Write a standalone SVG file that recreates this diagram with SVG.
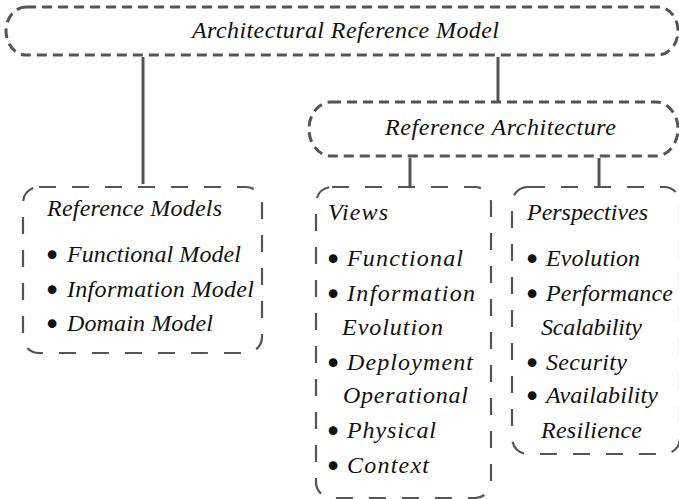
<svg xmlns="http://www.w3.org/2000/svg" width="679" height="499" viewBox="0 0 679 499">
  <style>
    .bg { fill: #ffffff; }
    .top-box { fill: none; stroke: #555555; stroke-width: 3; stroke-dasharray: 10 6; }
    .sub-box { fill: none; stroke: #555555; stroke-width: 2.2; stroke-dasharray: 17 16; }
    .link { stroke: #555555; stroke-width: 3; fill: none; }
    .lbl { font-family: "Liberation Serif", "Times New Roman", serif; font-style: italic; font-size: 24px; fill: #111111; }
    .dot { font-family: "DejaVu Sans", "Liberation Sans", sans-serif; font-size: 30px; fill: #111111; text-anchor: middle; }
  </style>
  <rect class="bg" x="0" y="0" width="679" height="499"/>

  <!-- connectors between boxes -->
  <g id="connectors">
    <line class="link" x1="143" y1="57" x2="143" y2="184"/>
    <line class="link" x1="498" y1="57" x2="498" y2="101"/>
    <line class="link" x1="410" y1="158" x2="410" y2="186"/>
    <line class="link" x1="599" y1="158" x2="599" y2="186"/>
  </g>

  <g id="architectural-reference-model">
    <rect class="top-box" x="6" y="7" width="672" height="48" rx="20" ry="24"/>
    <text class="lbl" x="192" y="38" textLength="307" lengthAdjust="spacing">Architectural Reference Model</text>
  </g>

  <g id="reference-architecture">
    <rect class="top-box" x="309" y="102" width="369" height="54" rx="22" ry="27"/>
    <text class="lbl" x="385" y="135" textLength="231" lengthAdjust="spacing">Reference Architecture</text>
  </g>

  <g id="reference-models">
    <rect class="sub-box" x="23" y="187" width="239" height="166" rx="16" ry="16"/>
    <text class="lbl" x="47" y="216" textLength="175" lengthAdjust="spacing">Reference Models</text>
    <text class="dot" x="52" y="266">•</text>
    <text class="lbl" x="67" y="262" textLength="174" lengthAdjust="spacing">Functional Model</text>
    <text class="dot" x="52" y="301">•</text>
    <text class="lbl" x="67" y="297" textLength="187" lengthAdjust="spacing">Information Model</text>
    <text class="dot" x="52" y="335">•</text>
    <text class="lbl" x="67" y="331" textLength="146" lengthAdjust="spacing">Domain Model</text>
  </g>

  <g id="views">
    <rect class="sub-box" x="316" y="187" width="175" height="311" rx="16" ry="16"/>
    <text class="lbl" x="328" y="220" textLength="60" lengthAdjust="spacing">Views</text>
    <text class="dot" x="333" y="270">•</text>
    <text class="lbl" x="347" y="266" textLength="116" lengthAdjust="spacing">Functional</text>
    <text class="dot" x="333" y="305">•</text>
    <text class="lbl" x="347" y="301" textLength="128" lengthAdjust="spacing">Information</text>
    <text class="lbl" x="342" y="335" textLength="101" lengthAdjust="spacing">Evolution</text>
    <text class="dot" x="333" y="374">•</text>
    <text class="lbl" x="347" y="370" textLength="126" lengthAdjust="spacing">Deployment</text>
    <text class="lbl" x="343" y="403" textLength="125" lengthAdjust="spacing">Operational</text>
    <text class="dot" x="333" y="442">•</text>
    <text class="lbl" x="347" y="438" textLength="89" lengthAdjust="spacing">Physical</text>
    <text class="dot" x="333" y="477">•</text>
    <text class="lbl" x="347" y="473" textLength="82" lengthAdjust="spacing">Context</text>
  </g>

  <g id="perspectives">
    <rect class="sub-box" x="512" y="187" width="168" height="267" rx="16" ry="16"/>
    <text class="lbl" x="527" y="220" textLength="121" lengthAdjust="spacing">Perspectives</text>
    <text class="dot" x="532" y="270">•</text>
    <text class="lbl" x="546" y="266" textLength="94" lengthAdjust="spacing">Evolution</text>
    <text class="dot" x="532" y="305">•</text>
    <text class="lbl" x="546" y="301" textLength="127" lengthAdjust="spacing">Performance</text>
    <text class="lbl" x="541" y="335" textLength="101" lengthAdjust="spacing">Scalability</text>
    <text class="dot" x="532" y="374">•</text>
    <text class="lbl" x="546" y="370" textLength="81" lengthAdjust="spacing">Security</text>
    <text class="dot" x="532" y="407">•</text>
    <text class="lbl" x="546" y="403" textLength="112" lengthAdjust="spacing">Availability</text>
    <text class="lbl" x="541" y="438" textLength="101" lengthAdjust="spacing">Resilience</text>
  </g>
</svg>
